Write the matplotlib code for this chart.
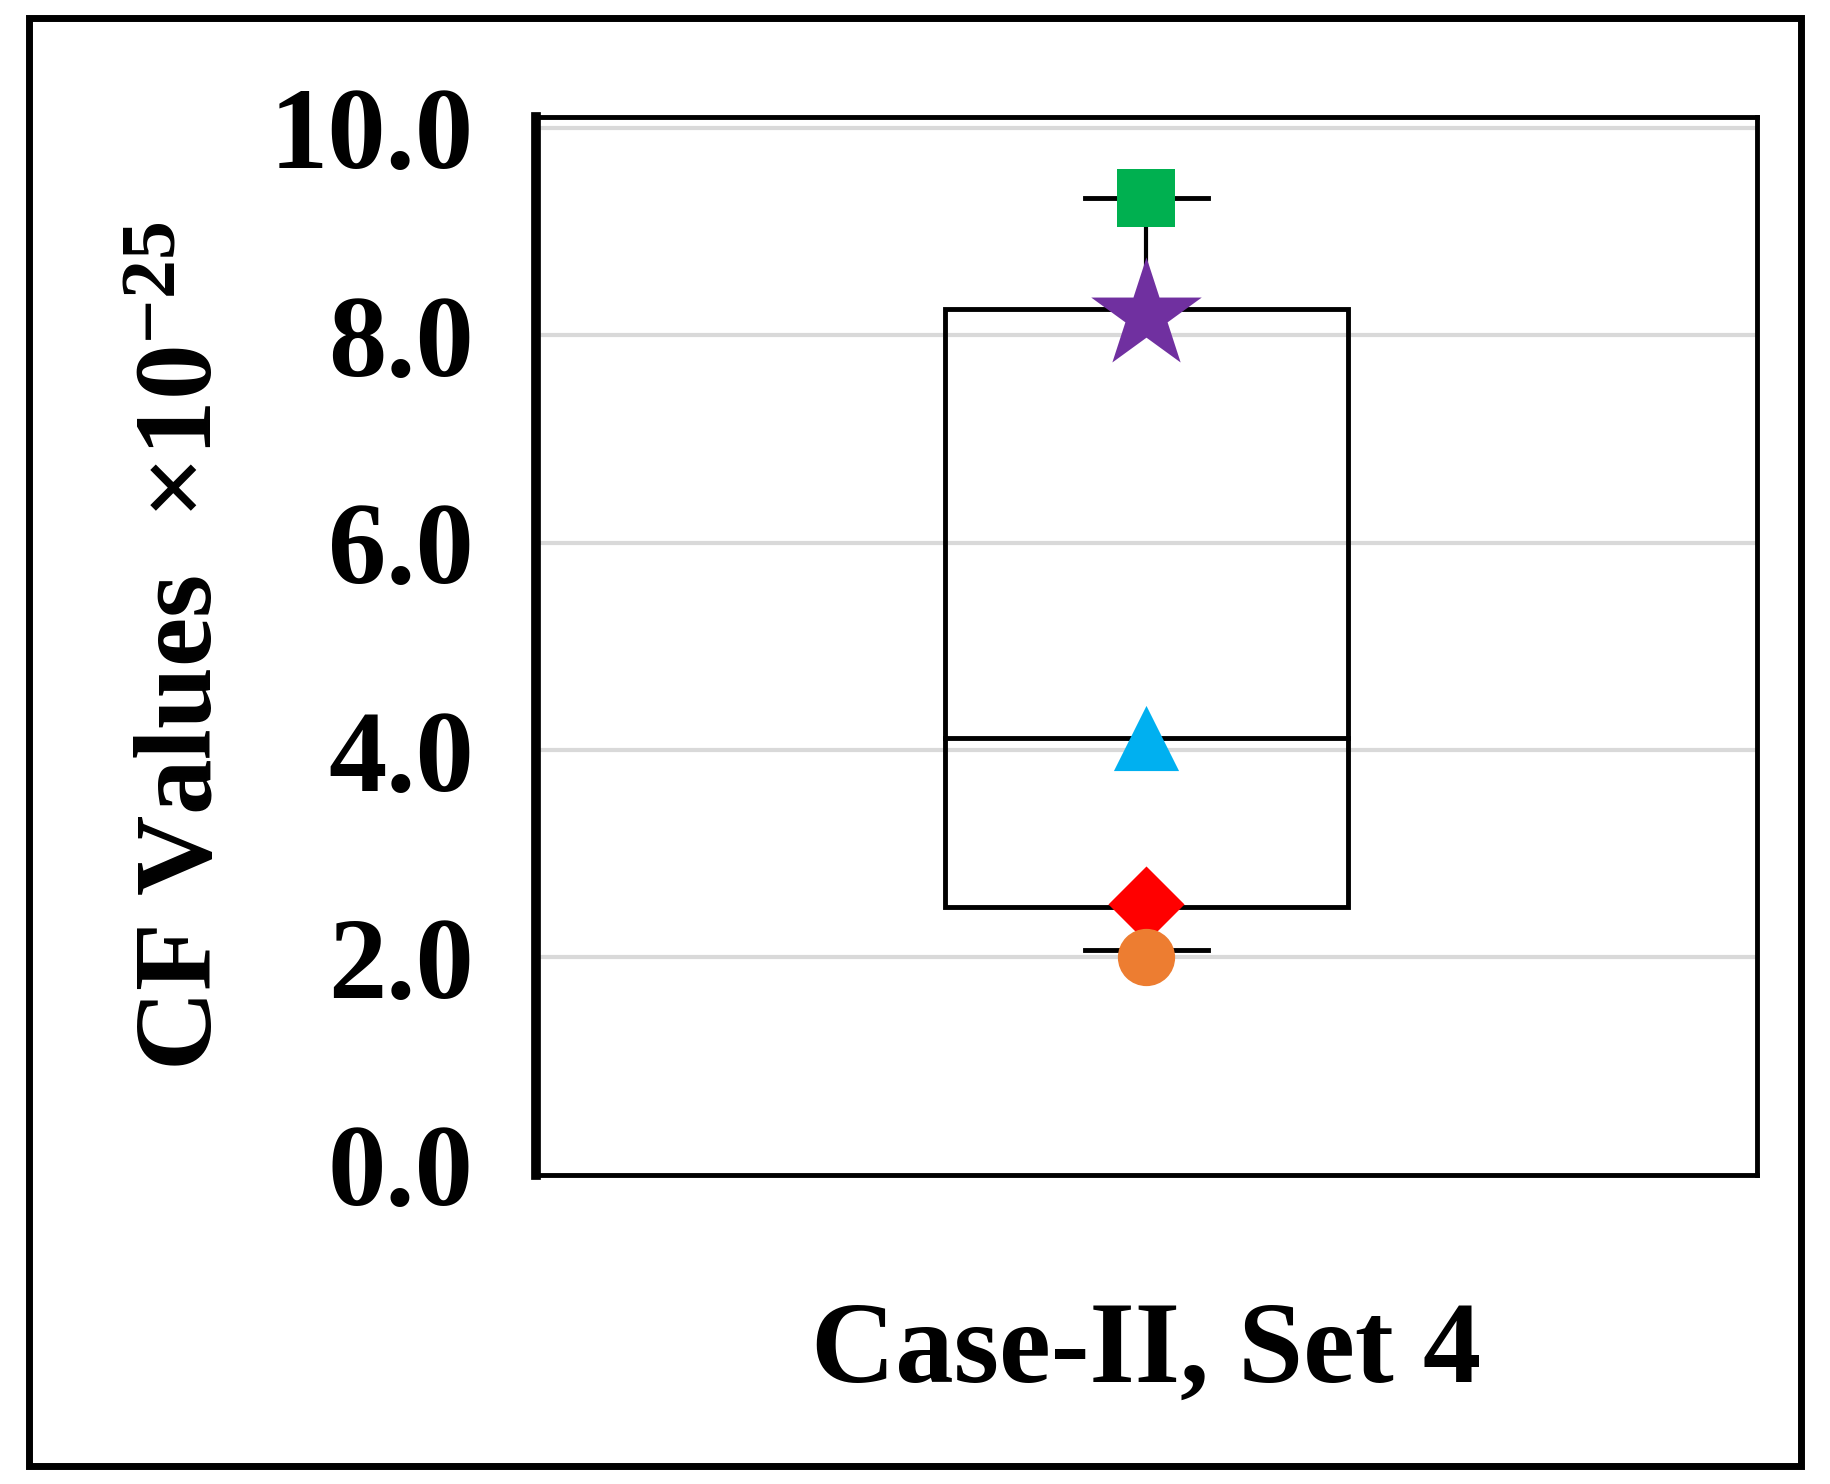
import matplotlib; matplotlib.use("Agg")
import matplotlib.pyplot as plt
from matplotlib.patches import Rectangle

plt.rcParams.update({"font.family": "Liberation Serif", "mathtext.fontset": "custom",
                     "mathtext.rm": "Liberation Serif", "mathtext.bf": "Liberation Serif:bold"})

# box statistics (x 1e-25)
whisker_lo, q1, median, q3, whisker_hi = 2.07, 2.49, 4.12, 8.25, 9.32
# individual markers
pt_values = [9.32, 8.19, 4.12, 2.52, 2.0]
pt_markers = ["s", "*", "^", "D", "o"]
pt_colors = ["#00b050", "#7030a0", "#00b0f0", "#ff0000", "#ed7d31"]
pt_sizes = [1700, 7000, 2200, 1500, 1700]
yticks = [0.0, 2.0, 4.0, 6.0, 8.0, 10.0]

fig = plt.figure(figsize=(18.3, 14.84), dpi=100)
fig.patches.append(Rectangle((0.016, 0.012), 0.968, 0.976, transform=fig.transFigure,
                             fill=False, lw=5, ec="black"))
ax = fig.add_axes([0.293, 0.208, 0.667, 0.713])
ax.set_xlim(0, 2); ax.set_ylim(-0.1, 10.1)
for y in yticks[1:]:
    ax.axhline(y, color="#d9d9d9", lw=3, zorder=0)
ax.add_patch(Rectangle((1 - 0.33, q1), 0.66, q3 - q1, fill=False, lw=3.5, ec="black", zorder=2))
ax.plot([0.67, 1.33], [median] * 2, color="black", lw=3.5, zorder=2)
ax.plot([1, 1], [q3, whisker_hi], color="black", lw=3, zorder=2)
ax.plot([1, 1], [whisker_lo, q1], color="black", lw=3, zorder=2)
for w in (whisker_lo, whisker_hi):
    ax.plot([0.9, 1.1], [w, w], color="black", lw=3.5, zorder=2)
for v, m, c, s in zip(pt_values, pt_markers, pt_colors, pt_sizes):
    ax.scatter([1], [v], marker=m, s=s, color=c, zorder=4, linewidths=0)
ax.set_xticks([])
ax.set_yticks(yticks)
ax.set_yticklabels([f"{t:.1f}" for t in yticks], fontsize=84, fontweight="bold")
ax.tick_params(axis="y", length=0, pad=45)
for s in ax.spines.values():
    s.set_linewidth(3.5)
ax.spines["left"].set_linewidth(7)
ax.set_ylabel(r"CF Values  $\mathbf{\times 10^{-25}}$", fontsize=80, fontweight="bold", labelpad=25)
ax.set_xlabel("Case-II, Set 4", fontsize=84, fontweight="bold", labelpad=90)
fig.savefig("out.png", dpi=100)
